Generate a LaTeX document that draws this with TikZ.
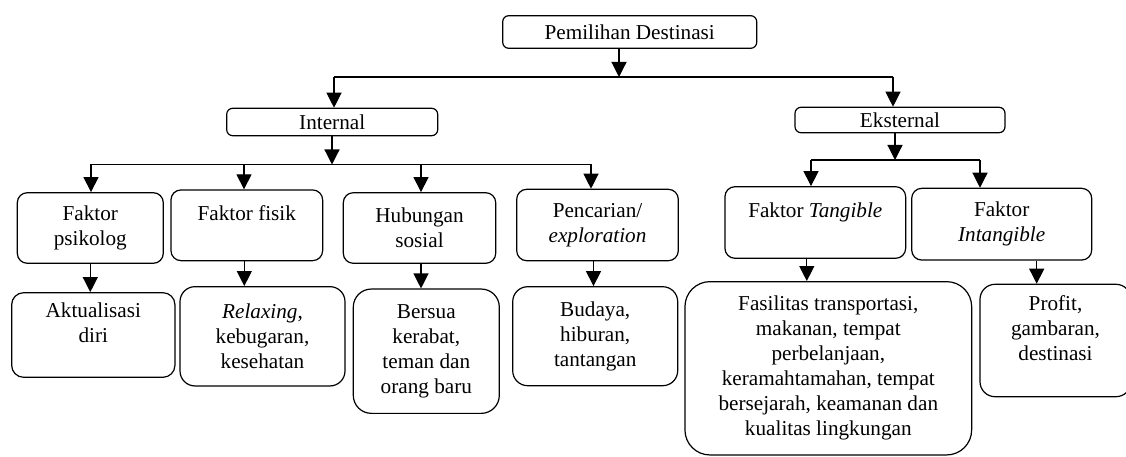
\documentclass[tikz,border=0pt]{standalone}
\usepackage{fontspec}
\setmainfont{Liberation Serif}
\usetikzlibrary{arrows.meta}

\tikzset{
  box/.style = {draw, rounded corners=10pt, line width=1.2pt, align=center, inner sep=2pt,
                font=\fontsize{21.2}{25}\selectfont},
  arr/.style = {-{Triangle[length=15pt, width=15pt]}, line width=1.2pt},
  bus/.style = {line width=1.2pt},
}

\begin{document}
\begin{tikzpicture}[x=1pt, y=-1pt]
\useasboundingbox (0,0) rectangle (1126,457);
% top levels
\node[box, rounded corners=6pt, minimum width=254, minimum height=32.6] (dest) at (629.7,32) {Pemilihan Destinasi};
\node[box, rounded corners=6pt, minimum width=211, minimum height=27.4] (int) at (332.2,122) {Internal};
\node[box, rounded corners=6pt, minimum width=210, minimum height=25.4] (eks) at (900,120) {Eksternal};
% factors
\node[box, minimum width=146, minimum height=70.6] (f1) at (90.3,228) {Faktor\\psikolog};
\node[box, minimum width=151.7, minimum height=70.7] (f2) at (246.8,225.3) {Faktor fisik\\ \mbox{}};
\node[box, minimum width=152.4, minimum height=70.6] (f3) at (419.5,228) {Hubungan\\sosial};
\node[box, minimum width=161.6, minimum height=71.4] (f4) at (597.5,225) {Pencarian/\\\textit{exploration}};
\node[box, minimum width=180.7, minimum height=71.6] (f5) at (815.3,222.5) {Faktor \textit{Tangible}\\ \mbox{}};
\node[box, minimum width=180, minimum height=71.7] (f6) at (1001.7,224.2) {Faktor\\\textit{Intangible}};
% details
\node[box, rounded corners=12pt, minimum width=163.3, minimum height=84.6] (h1) at (93.3,335) {Aktualisasi\\diri\\ \mbox{}};
\node[box, rounded corners=15pt, minimum width=165, minimum height=99.3] (h2) at (262.5,336.3) {\textit{Relaxing},\\kebugaran,\\kesehatan};
\node[box, rounded corners=18pt, minimum width=146, minimum height=124.3] (h3) at (426.3,351.2) {Bersua\\kerabat,\\teman dan\\orang baru};
\node[box, rounded corners=15pt, minimum width=165, minimum height=99] (h4) at (595.2,336.2) {Budaya,\\hiburan,\\tantangan};
\node[box, rounded corners=25pt, minimum width=286.7, minimum height=173.3] (h5) at (828.3,368.3) {Fasilitas transportasi,\\makanan, tempat\\perbelanjaan,\\keramahtamahan, tempat\\bersejarah, keamanan dan\\kualitas lingkungan};
\node[box, rounded corners=15pt, minimum width=151, minimum height=112.4] (h6) at (1055.5,340.5) {Profit,\\gambaran,\\destinasi\\ \mbox{}};
% bus points
\coordinate (m0) at (619,77);
\coordinate (b1) at (334,77);
\coordinate (b2) at (893,77);
\coordinate (m1) at (332,164.5);
\coordinate (c1) at (91,164.5);
\coordinate (c2) at (244,164.5);
\coordinate (c3) at (421,164.5);
\coordinate (c4) at (591,164.5);
\coordinate (m2) at (895,160);
\coordinate (c5) at (811,160);
\coordinate (c6) at (980,160);
% connectors
\draw[arr] (m0 |- dest.south) -- (m0);
\draw[bus] (b1) -- (b2);
\draw[arr] (b1) -- (b1 |- int.north);
\draw[arr] (b2) -- (b2 |- eks.north);
\draw[arr] (m1 |- int.south) -- (m1);
\draw[bus] (c1) -- (c4);
\draw[arr] (c1) -- (c1 |- f1.north);
\draw[arr] (c2) -- (c2 |- f2.north);
\draw[arr] (c3) -- (c3 |- f3.north);
\draw[arr] (c4) -- (c4 |- f4.north);
\draw[arr] (m2 |- eks.south) -- (m2);
\draw[bus] (c5) -- (c6);
\draw[arr] (c5) -- (c5 |- f5.north);
\draw[arr] (c6) -- (c6 |- f6.north);
\draw[arr] (f1.south) -- (f1.south |- h1.north);
\draw[arr] ([xshift=-2.5pt]f2.south) -- ([xshift=-2.5pt]f2.south |- h2.north);
\draw[arr] ([xshift=1.5pt]f3.south) -- ([xshift=1.5pt]f3.south |- h3.north);
\draw[arr] ([xshift=-4pt]f4.south) -- ([xshift=-4pt]f4.south |- h4.north);
\draw[arr] ([xshift=-8.5pt]f5.south) -- ([xshift=-8.5pt]f5.south |- h5.north);
\draw[arr] ([xshift=35pt]f6.south) -- ([xshift=35pt]f6.south |- h6.north);
\end{tikzpicture}
\end{document}
